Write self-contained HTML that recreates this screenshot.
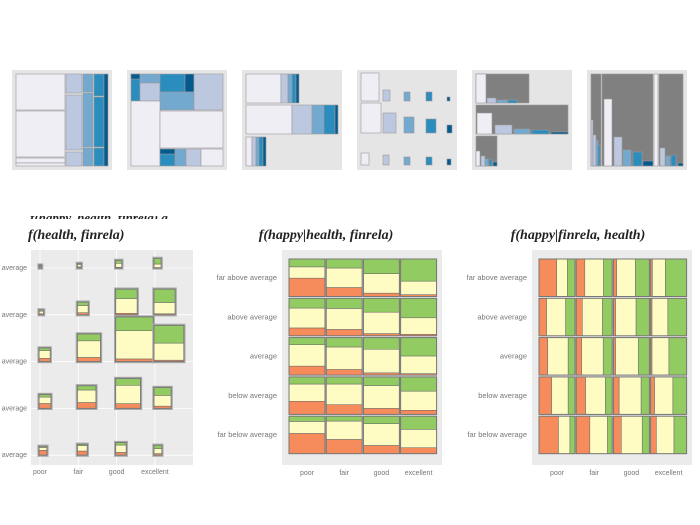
<!DOCTYPE html>
<html><head><meta charset="utf-8"><style>
body{margin:0;background:#fff;width:700px;height:520px;overflow:hidden}
svg text{font-family:"Liberation Sans",sans-serif}
</style></head><body>
<svg id="s" width="700" height="520" xmlns="http://www.w3.org/2000/svg">
<defs><clipPath id="cut"><rect x="0" y="216" width="200" height="3"/></clipPath></defs>
<text x="30" y="222" clip-path="url(#cut)" font-size="13" font-style="italic" font-weight="bold" fill="#222" style='font-family:"Liberation Serif",serif'>f(happy, health, finrela) g</text>
<g id="thumbs"></g>
<g id="p1"></g>
<g id="p2"></g>
<g id="p3"></g>
</svg>
<script>
const NS="http://www.w3.org/2000/svg";
const healthCats=["poor","fair","good","excellent"];
const finrelaCats=["far above average","above average","average","below average","far below average"];
const happyRed=[[.49,.24,.09,.05],[.21,.17,.06,.04],[.24,.15,.06,.04],[.35,.26,.16,.11],[.54,.38,.22,.16]];
const happyYellow=[[.30,.52,.52,.36],[.53,.56,.57,.44],[.57,.60,.63,.47],[.46,.55,.61,.51],[.32,.49,.58,.49]];
const boxW=[[2.7,4,6.3,7.3],[4.7,11,21.7,21.3],[11.3,23.3,37.7,30],[12,18.7,25,17.3],[8,10,10.7,8]];
const boxH=[[3,4.7,7.7,9.7],[5,12.7,25.7,25.7],[13.7,27.7,44.7,36.3],[14,22.7,30,21],[9,11,12.7,10]];
const RED="#f68b5b",YEL="#fefcc3",GRN="#92cb62";
function el(p,t,a){const e=document.createElementNS(NS,t);for(const k in a)e.setAttribute(k,a[k]);p.appendChild(e);return e;}
const th=document.getElementById('thumbs');
const C={w:"#f0eef5",l:"#bcc8e0",m:"#74a9cf",b:"#2b8cbe",d:"#045a8d",g:"#808080"};
const thumbRects=[
[[16,74,49,36,'w'],[16,111,49,46,'w'],[16,158,49,5,'w'],[16,163,49,3,'w'],[66,74,16,19,'l'],[66,95,16,55,'l'],[66,152,16,14,'l'],[83,74,10,18,'m'],[83,93,10,54,'m'],[83,148,10,18,'m'],[94,74,10,22,'b'],[94,97,10,50,'b'],[94,148,10,18,'b'],[104,74,4,92,'d']],
[[131,74,9,27,'b'],[131,74,9,5,'d'],[140,74,20,9,'m'],[140,83,20,18,'l'],[160,74,25,18,'b'],[185,74,9,18,'d'],[160,92,34,18,'m'],[194,74,29,36,'l'],[131,101,29,65,'w'],[160,111,63,37,'w'],[160,149,15,17,'b'],[160,149,15,5,'d'],[175,149,11,17,'m'],[186,149,15,17,'l'],[201,149,22,17,'w']],
[[246,74,35,29,'w'],[281,74,7,29,'l'],[288,74,4,29,'m'],[292,74,4,29,'b'],[296,74,3,29,'d'],[246,105,46,29,'w'],[292,105,20,29,'l'],[312,105,12,29,'m'],[324,105,11,29,'b'],[335,105,3,29,'d'],[246,137,6,29,'w'],[252,137,4,29,'l'],[256,137,3,29,'m'],[259,137,4,29,'b'],[263,137,3,29,'d']],
[[361,73,18,28,'w'],[383,90,7,11,'l'],[404,92,6,9,'m'],[426,92,6,9,'b'],[447,97,3,4,'d'],[361,103,20,30,'w'],[383,113,13,20,'l'],[404,117,10,16,'m'],[426,119,10,14,'b'],[447,125,5,8,'d'],[361,153,8,12,'w'],[383,155,6,10,'l'],[404,157,6,8,'m'],[426,157,6,8,'b'],[447,159,4,6,'d']],
[[476,74,53,29,'g'],[476,74,10,29,'w'],[487,98,9,5,'l'],[497,100,10,3,'m'],[508,100,9,3,'b'],[476,105,92,29,'g'],[477,113,15,21,'w'],[495,125,17,9,'l'],[514,129,16,5,'m'],[532,130,17,4,'b'],[551,132,17,2,'d'],[476,136,21,30,'g'],[476,151,4,15,'w'],[481,156,4,10,'l'],[485,159,3,7,'m'],[489,159,3,7,'b'],[493,162,4,4,'d']],
[[591,74,10,92,'g'],[591,120,2,46,'l'],[593,135,3,31,'l'],[596,140,2,26,'m'],[598,145,2,21,'b'],[602,74,51,92,'g'],[604,99,8,67,'w'],[614,137,8,29,'l'],[623,150,8,16,'m'],[633,152,9,14,'b'],[643,161,10,5,'d'],[654,74,4,92,'w'],[659,74,24,92,'g'],[660,148,5,18,'l'],[666,156,4,10,'m'],[671,155,5,11,'b'],[678,163,5,3,'d']]
];
thumbRects.forEach((rs,i)=>{
 const g=el(th,'g',{});
 
 
 el(g,'rect',{x:12+i*115,y:70,width:100,height:100,fill:'#e5e5e5'});
 rs.forEach(r=>el(g,'rect',{x:r[0],y:r[1],width:r[2],height:r[3],fill:C[r[4]],stroke:'#999','stroke-width':0.6}));
});
function title(g,x,y,anchor,parts){
 const t=el(g,'text',{x:x,y:y,'text-anchor':anchor,'font-size':14,'font-style':'italic','font-weight':'bold',fill:'#222',style:'font-family:"Liberation Serif",serif'});
 t.textContent=parts;
 
 
}
function stack(g,x,y,w,h,fr,vertical){
 const f=[fr[0],fr[1],1-fr[0]-fr[1]],cols=[RED,YEL,GRN];let acc=0;
 for(let k=0;k<3;k++){
  let r;
  if(vertical) r=el(g,'rect',{x:x,y:y+h*(1-acc-f[k]),width:w,height:h*f[k],fill:cols[k],stroke:'#666','stroke-width':0.5});
  else r=el(g,'rect',{x:x+w*acc,y:y,width:w*f[k],height:h,fill:cols[k],stroke:'#666','stroke-width':0.5});
  
  
  acc+=f[k];
 }
 el(g,'rect',{x:x,y:y,width:w,height:h,fill:'none',stroke:'#777','stroke-width':1});
}
(function(){
 const g=document.getElementById('p1');
 title(g,28,239,'start','f(health, finrela)');
 el(g,'rect',{x:31,y:250,width:162,height:215,fill:'#ebebeb'});
 const xs=i=>40+i*38.3, ys=j=>268+j*46.8, u=1.0;
 for(let i=0;i<4;i++){el(g,'line',{x1:xs(i),x2:xs(i),y1:250,y2:465,stroke:'#fff','stroke-width':0.8});
  const t=el(g,'text',{x:xs(i),y:474,'text-anchor':'middle','font-size':7,fill:'#777'});t.textContent=healthCats[i];
  }
 for(let j=0;j<5;j++){el(g,'line',{x1:31,x2:193,y1:ys(j),y2:ys(j),stroke:'#fff','stroke-width':0.8});
  const t=el(g,'text',{x:27,y:ys(j)+2,'text-anchor':'end','font-size':7,fill:'#777'});t.textContent='average';
  }
 for(let j=0;j<5;j++)for(let i=0;i<4;i++){
  const w=boxW[j][i]*u,h=boxH[j][i]*u;
  const b=el(g,'g',{});
  
  
  el(b,'rect',{x:xs(i)-2,y:ys(j)-h-1,width:w+2,height:h+2,fill:'none',stroke:'#aaa','stroke-width':1.2});
  stack(b,xs(i)-1,ys(j)-h,w,h,[happyRed[j][i],happyYellow[j][i]],true);
 }
})();
function mosaic(id,x0,vertical){
 const g=document.getElementById(id);
 el(g,'rect',{x:x0,y:250,width:160,height:215,fill:'#ebebeb'});
 const cx=i=>x0+7+i*37.2, ry=j=>259+j*39.3;
 for(let i=0;i<4;i++){const t=el(g,'text',{x:cx(i)+18,y:475,'text-anchor':'middle','font-size':7,fill:'#777'});t.textContent=healthCats[i];
  }
 for(let j=0;j<5;j++){const t=el(g,'text',{x:x0-5,y:ry(j)+21,'text-anchor':'end','font-size':7.5,fill:'#777'});t.textContent=finrelaCats[j];
  }
 for(let j=0;j<5;j++)for(let i=0;i<4;i++){
  const b=el(g,'g',{});
  
  
  stack(b,cx(i),ry(j),36,37.5,[happyRed[j][i],happyYellow[j][i]],vertical);
 }
}
mosaic('p2',282,true);
title(document.getElementById('p2'),326,239,'middle','f(happy|health, finrela)');
mosaic('p3',532,false);
title(document.getElementById('p3'),578,239,'middle','f(happy|finrela, health)');
</script>
</body></html>
